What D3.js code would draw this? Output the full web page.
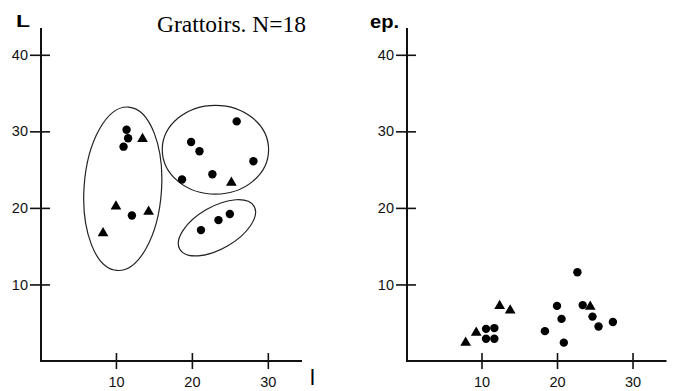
<!DOCTYPE html>
<html>
<head>
<meta charset="utf-8">
<script src="https://cdnjs.cloudflare.com/ajax/libs/d3/7.8.5/d3.min.js"></script>
<style>
  body { margin: 0; background: #fff; }
  .tick text { font-family: "Liberation Sans", Arial, sans-serif; font-size: 14.5px; fill: #111; }
</style>
</head>
<body>
<script>
// Grattoirs: L vs l (left) and ep. vs l (right)

// left panel: largeur (l) vs longueur (L)
var leftCircles = [[11.4, 30.2], [11.6, 29.1], [11.0, 28.0], [19.9, 28.6], [21.0, 27.4],
  [25.9, 31.3], [28.1, 26.1], [18.7, 23.7], [22.7, 24.4], [12.1, 19.0],
  [21.2, 17.1], [23.5, 18.4], [25.0, 19.2]];
var leftTriangles = [[13.5, 29.0], [25.2, 23.3], [10.0, 20.2], [14.3, 19.5], [8.3, 16.7]];

// right panel: largeur (l) vs epaisseur (ep.)
var rightCircles = [[22.7, 11.6], [10.6, 4.2], [11.7, 4.3], [10.6, 2.9], [11.7, 2.9],
  [18.4, 3.9], [20.0, 7.2], [20.6, 5.5], [20.9, 2.4], [23.4, 7.3],
  [24.7, 5.8], [25.5, 4.5], [27.4, 5.1]];
var rightTriangles = [[12.4, 7.2], [13.8, 6.6], [9.3, 3.7], [7.9, 2.4], [24.4, 7.1]];

// groups circled on the left panel (centre, radii in data units, tilt in degrees)
var groupEllipses = [
  { cx: 10.9, cy: 22.5, rx: 5.1, ry: 10.7, angle: 4 },
  { cx: 23.1, cy: 27.6, rx: 7.0, ry: 5.8, angle: 0 },
  { cx: 23.3, cy: 17.4, rx: 5.65, ry: 2.75, angle: -30 }
];

var xTicks = [10, 20, 30];
var yTicks = [10, 20, 30, 40];

var svgWidth = 673;
var svgHeight = 391;

var svg = d3.select("body")
  .append("svg")
  .attr("width", svgWidth)
  .attr("height", svgHeight);

function drawPanel(opts) {
  var x = d3.scaleLinear().domain([0, 34.5]).range(opts.xRange);
  var y = d3.scaleLinear().domain([0, 43.5]).range([361, 28]);

  var g = svg.append("g");

  // y axis
  var yAxis = g.append("g")
    .attr("transform", `translate(${opts.xRange[0] + 1}, 0)`)
    .call(d3.axisLeft(y).tickValues(yTicks).tickSize(11).tickPadding(2));
  yAxis.select(".domain").remove();
  yAxis.selectAll(".tick line").attr("x1", 9).attr("stroke", "#111").attr("stroke-width", 1.6);
  yAxis.append("line")
    .attr("y1", y(0)).attr("y2", y(43.5))
    .attr("stroke", "#111").attr("stroke-width", 2);

  // x axis
  var xAxis = g.append("g")
    .attr("transform", `translate(0, ${y(0)})`)
    .call(d3.axisBottom(x).tickValues(xTicks).tickSize(8).tickPadding(8));
  xAxis.select(".domain").remove();
  xAxis.selectAll(".tick line").attr("y1", -8).attr("stroke", "#111").attr("stroke-width", 1.6);
  xAxis.append("line")
    .attr("x1", x(0)).attr("x2", x(34.5))
    .attr("stroke", "#111").attr("stroke-width", 2);

  // ellipses around groups
  g.selectAll("ellipse")
    .data(opts.ellipses)
    .enter()
    .append("ellipse")
    .attr("transform", d => `translate(${x(d.cx)}, ${y(d.cy)}) rotate(${d.angle})`)
    .attr("rx", d => x(d.rx) - x(0))
    .attr("ry", d => y(0) - y(d.ry))
    .attr("fill", "none")
    .attr("stroke", "#222")
    .attr("stroke-width", 1.2);

  // points
  g.selectAll("circle")
    .data(opts.circles)
    .enter()
    .append("circle")
    .attr("cx", d => x(d[0]))
    .attr("cy", d => y(d[1]))
    .attr("r", 4.2)
    .attr("fill", "#000");

  g.selectAll("path.tri")
    .data(opts.triangles)
    .enter()
    .append("path")
    .attr("class", "tri")
    .attr("d", d3.symbol().type(d3.symbolTriangle).size(50))
    .attr("transform", d => `translate(${x(d[0])}, ${y(d[1])})`)
    .attr("fill", "#000");

  return { x: x, y: y };
}

var left = drawPanel({
  xRange: [40, 302],
  circles: leftCircles,
  triangles: leftTriangles,
  ellipses: groupEllipses
});

var right = drawPanel({
  xRange: [406, 666.5],
  circles: rightCircles,
  triangles: rightTriangles,
  ellipses: []
});

// axis names
svg.append("text")
  .attr("x", 16).attr("y", 27)
  .attr("textLength", 14)
  .attr("lengthAdjust", "spacingAndGlyphs")
  .style("font-family", "Liberation Sans, Arial, sans-serif")
  .style("font-weight", "bold")
  .style("font-size", "17px")
  .text("L");

svg.append("text")
  .attr("x", 370).attr("y", 28)
  .attr("textLength", 29)
  .attr("lengthAdjust", "spacingAndGlyphs")
  .style("font-family", "Liberation Sans, Arial, sans-serif")
  .style("font-weight", "bold")
  .style("font-size", "18px")
  .text("ep.");

svg.append("text")
  .attr("x", 310).attr("y", 385)
  .style("font-family", "Liberation Sans, Arial, sans-serif")
  .style("font-size", "22px")
  .text("l");

// title
svg.append("text")
  .attr("x", 157).attr("y", 32)
  .style("font-family", "Liberation Serif, Times New Roman, serif")
  .style("font-size", "23.5px")
  .text("Grattoirs. N=18");
</script>
</body>
</html>
